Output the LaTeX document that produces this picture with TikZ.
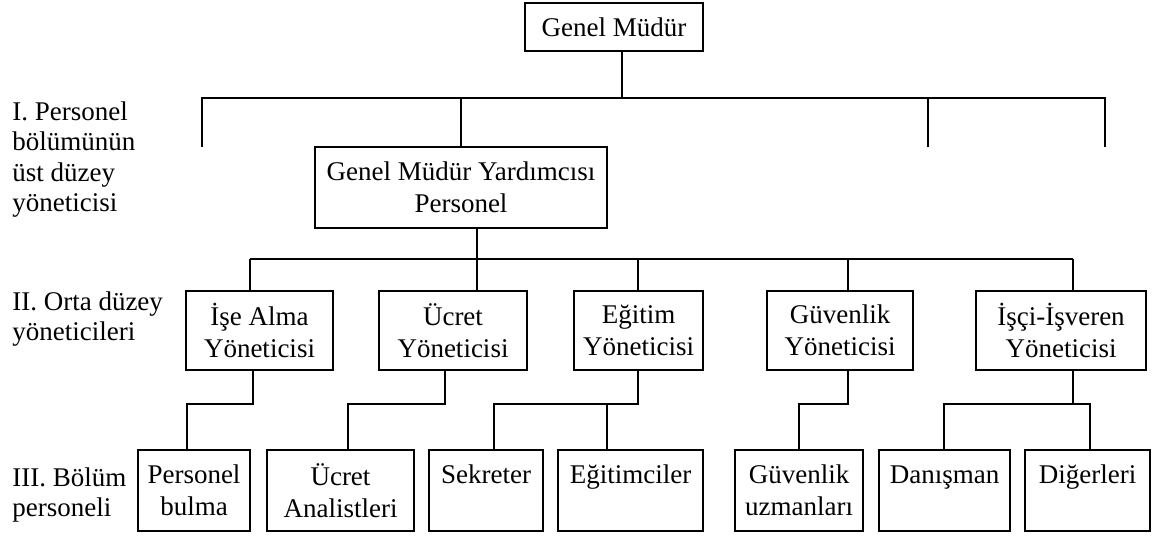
\documentclass[tikz,border=0pt]{standalone}
\usepackage{fontspec}
\setmainfont{Liberation Serif}
\tikzset{
	box/.style={draw, line width=1.4pt, inner sep=0pt, align=center},
	midbox/.style={box, minimum height=39.5pt},
	lowbox/.style={box, minimum height=40.5pt},
	level/.style={anchor=north west, inner sep=0pt, align=left, font=\fontsize{13.5pt}{15.25pt}\selectfont},
}
\begin{document}
\begin{tikzpicture}[x=0.5pt, y=-0.5pt, line width=1.3pt, font=\fontsize{13.5pt}{16pt}\selectfont]
	\useasboundingbox (0,0) rectangle (1161,538);
	% level labels on the left
	\node[level] (lab1) at (11,100) {I. Personel\\bölümünün\\üst düzey\\yöneticisi};
	\node[level] (lab2) at (11,290) {II. Orta düzey\\yöneticileri};
	\node[level] (lab3) at (11,466) {III. Bölüm\\personeli};
	% top
	\node[box, minimum width=89pt, minimum height=24pt] (gm) at (614,27) {Genel Müdür};
	\node[box, minimum width=146pt, minimum height=40.5pt] (gmy) at (461,187.5) {Genel Müdür Yardımcısı\\Personel};
	% middle managers
	\node[midbox, minimum width=73.5pt] (ise) at (259.5,330.5) {İşe Alma\\Yöneticisi};
	\node[midbox, minimum width=74pt] (ucret) at (453,330.5) {Ücret\\Yöneticisi};
	\node[midbox, minimum width=64.5pt] (egitim) at (638.5,330.5) {Eğitim\\Yöneticisi};
	\node[midbox, minimum width=73pt] (guv) at (840,330.5) {Güvenlik\\Yöneticisi};
	\node[midbox, minimum width=85pt] (isci) at (1061,330.5) {İşçi-İşveren\\Yöneticisi};
	% staff
	\node[lowbox, minimum width=56pt] (pbul) at (194,490.5) {Personel\\bulma};
	\node[lowbox, minimum width=73.5pt] (uana) at (340.5,490.5) {Ücret\\Analistleri};
	\node[lowbox, minimum width=57pt] (sek) at (486,490.5) {Sekreter\\\mbox{}};
	\node[lowbox, minimum width=72.5pt] (egm) at (630.5,490.5) {Eğitimciler\\\mbox{}};
	\node[lowbox, minimum width=64pt] (guvu) at (799,490.5) {Güvenlik\\uzmanları};
	\node[lowbox, minimum width=65.5pt] (dan) at (944.5,490.5) {Danışman\\\mbox{}};
	\node[lowbox, minimum width=62.5pt] (dig) at (1087.5,490.5) {Diğerleri\\\mbox{}};

	% first bar
	\coordinate (b1) at (622,98);
	\coordinate (l1) at (202,147);
	\coordinate (r1) at (928,147);
	\coordinate (r2) at (1105,147);
	\draw (gm.south -| b1) -- (b1);
	\draw (l1) |- (r2 |- b1) -- (r2);
	\draw (gmy.north) -- (gmy.north |- b1);
	\draw (r1) -- (r1 |- b1);

	% second bar
	\coordinate (d1) at (250,259);
	\coordinate (d2) at (477,259);
	\coordinate (d3) at (638,259);
	\coordinate (d4) at (848,259);
	\coordinate (d5) at (1073,259);
	\draw (d1) -- (d5);
	\draw (gmy.south -| d2) -- (d2);
	\foreach \d/\b in {d1/ise, d2/ucret, d3/egitim, d4/guv, d5/isci}
		\draw (\d) -- (\d |- \b.north);

	% down to the staff
	\coordinate (u1) at (253,404); \coordinate (v1) at (187,404);
	\coordinate (u2) at (445,404); \coordinate (v2) at (348,404);
	\coordinate (u3) at (638,404); \coordinate (v3) at (494,404); \coordinate (w3) at (607,404);
	\coordinate (u4) at (848,404); \coordinate (v4) at (799,404);
	\coordinate (u5) at (1073,404); \coordinate (v5) at (944,404); \coordinate (w5) at (1090,404);
	\foreach \u/\v/\a/\c in {u1/v1/ise/pbul, u2/v2/ucret/uana, u3/v3/egitim/sek, u4/v4/guv/guvu}
		\draw (\u |- \a.south) -- (\u) -- (\v) -- (\v |- \c.north);
	\draw (w3) -- (w3 |- egm.north);
	\draw (u5 |- isci.south) -- (u5);
	\draw (v5 |- dan.north) -- (v5) -- (w5) -- (w5 |- dig.north);
\end{tikzpicture}
\end{document}
